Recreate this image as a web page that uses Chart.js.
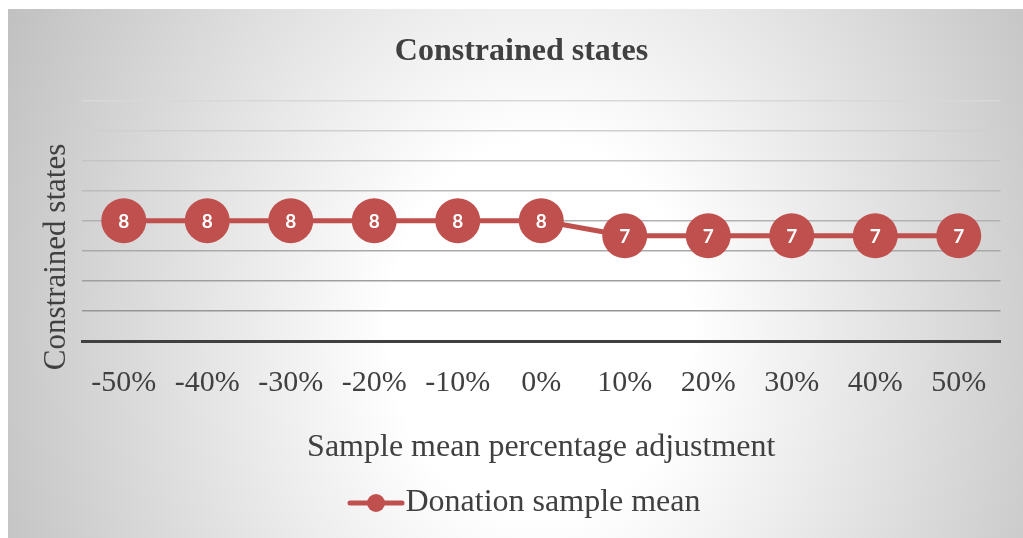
<!DOCTYPE html>
<html>
<head>
<meta charset="utf-8">
<script src="https://cdn.jsdelivr.net/npm/chart.js@4/dist/chart.umd.min.js"></script>
<style>
  html, body { margin: 0; padding: 0; background: #ffffff; }
  #wrap { position: absolute; left: 8px; top: 9px; width: 1015px; height: 529px; }
</style>
</head>
<body>
<div id="wrap"><canvas id="chart" width="1015" height="529"></canvas></div>
<script>
// Percentage adjustment applied to the sample mean
const categories = ['-50%', '-40%', '-30%', '-20%', '-10%', '0%', '10%', '20%', '30%', '40%', '50%'];
// Number of constrained states for each adjustment
const donationMean = [8, 8, 8, 8, 8, 8, 7, 7, 7, 7, 7];
const seriesName = 'Donation sample mean';
const chartTitle = 'Constrained states';
const yTitle = 'Constrained states';
const xTitle = 'Sample mean percentage adjustment';

const RED = '#C0504D';
const TEXT = '#404040';
const SERIF = "'Liberation Serif', 'Times New Roman', serif";

// Legend marker: a short line with a dot on it (sits right of the image centre)
const marker = document.createElement('canvas');
marker.width = 80; marker.height = 24;
(function () {
  const c = marker.getContext('2d');
  c.strokeStyle = RED; c.lineWidth = 5; c.lineCap = 'round';
  c.beginPath(); c.moveTo(24, 12); c.lineTo(76, 12); c.stroke();
  c.fillStyle = RED;
  c.beginPath(); c.arc(50, 12, 9, 0, Math.PI * 2); c.fill();
})();

// Soft elliptical shading behind the chart
const backdrop = {
  id: 'backdrop',
  beforeDraw(chart) {
    const { ctx, width, height } = chart;
    ctx.save();
    ctx.fillStyle = '#c0c0c0';
    ctx.fillRect(0, 0, width, height);
    ctx.translate(532, 321);
    ctx.scale(1, 1.25);
    const g = ctx.createRadialGradient(0, 0, 0, 0, 0, 600);
    g.addColorStop(0, '#ffffff');
    g.addColorStop(0.25, '#ffffff');
    g.addColorStop(1, '#bfbfbf');
    ctx.fillStyle = g;
    ctx.fillRect(-700, -400, 1400, 800);
    ctx.restore();
  }
};

// Rotated title beside the value axis
const sideTitle = {
  id: 'sideTitle',
  afterDraw(chart) {
    const { ctx } = chart;
    ctx.save();
    ctx.translate(49, 248);
    ctx.rotate(-Math.PI / 2);
    ctx.font = '31px ' + SERIF;
    ctx.fillStyle = TEXT;
    ctx.textAlign = 'center';
    ctx.textBaseline = 'middle';
    ctx.fillText(yTitle, 0, 0);
    ctx.restore();
  }
};

// Value written inside each marker
const valueLabels = {
  id: 'valueLabels',
  afterDatasetsDraw(chart) {
    const { ctx } = chart;
    ctx.save();
    ctx.font = "bold 19px Lato, 'Open Sans', sans-serif";
    ctx.fillStyle = '#ffffff';
    ctx.textAlign = 'center';
    ctx.textBaseline = 'middle';
    chart.data.datasets.forEach((ds, di) => {
      chart.getDatasetMeta(di).data.forEach((pt, i) => {
        ctx.fillText(String(ds.data[i]), pt.x, pt.y + 1);
      });
    });
    ctx.restore();
  }
};

function gridShade(value) {
  if (value === 0) return 'rgba(0,0,0,0)';
  const t = value / 16;
  const v = Math.round(140 + t * 76);
  return `rgb(${v},${v},${v})`;
}

new Chart(document.getElementById('chart'), {
  type: 'line',
  data: {
    labels: categories,
    datasets: [{
      label: seriesName,
      data: donationMean,
      borderColor: RED,
      backgroundColor: RED,
      borderWidth: 5,
      pointRadius: 22.5,
      pointHoverRadius: 22.5,
      pointBackgroundColor: RED,
      pointBorderWidth: 0,
      tension: 0,
      clip: false
    }]
  },
  options: {
    responsive: false,
    animation: false,
    events: [],
    layout: { padding: { left: 12, right: 0, top: 0, bottom: 9 } },
    plugins: {
      tooltip: { enabled: false },
      title: {
        display: true,
        text: chartTitle,
        color: TEXT,
        font: { family: SERIF, size: 32, weight: 'bold' },
        padding: { top: 24, bottom: 29 }
      },
      legend: {
        display: true,
        position: 'bottom',
        labels: {
          usePointStyle: true,
          pointStyle: marker,
          pointStyleWidth: 47,
          padding: 20,
          color: TEXT,
          font: { family: SERIF, size: 32 }
        }
      }
    },
    scales: {
      x: {
        offset: true,
        grid: { display: false, drawTicks: false },
        border: { display: true, color: '#404040', width: 3 },
        ticks: { color: TEXT, padding: 24, font: { family: SERIF, size: 30 }, maxRotation: 0, autoSkip: false },
        title: {
          display: true,
          text: xTitle,
          color: TEXT,
          font: { family: SERIF, size: 32 },
          padding: { top: 27, bottom: 0 }
        },
        afterFit: (s) => { s.height = 126; }
      },
      y: {
        min: 0,
        max: 16,
        ticks: { display: false, stepSize: 2 },
        grid: {
          drawTicks: false,
          lineWidth: 1.5,
          color: (c) => gridShade(c.tick ? c.tick.value : 0)
        },
        border: { display: false },
        afterFit: (s) => { s.width = 62; }
      },
      yRight: {
        position: 'right',
        ticks: { display: false },
        grid: { display: false, drawTicks: false },
        border: { display: false },
        afterFit: (s) => { s.width = 18; }
      }
    }
  },
  plugins: [backdrop, sideTitle, valueLabels]
});
</script>
</body>
</html>
